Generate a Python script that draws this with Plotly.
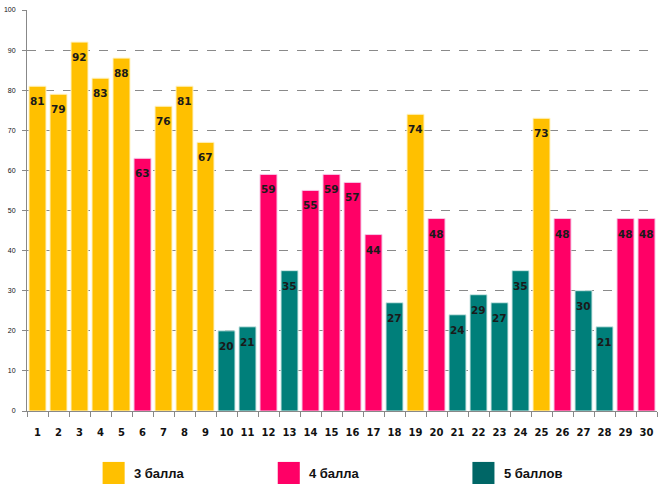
import plotly.graph_objects as go

categories = [str(i) for i in range(1, 31)]
values = [81, 79, 92, 83, 88, 63, 76, 81, 67, 20, 21, 59, 35, 55, 59, 57, 44, 27,
          74, 48, 24, 29, 27, 35, 73, 48, 30, 21, 48, 48]
grades = ["3", "3", "3", "3", "3", "4", "3", "3", "3", "5", "5", "4", "5", "4", "4", "4", "4", "5",
          "3", "4", "5", "5", "5", "5", "3", "4", "5", "5", "4", "4"]
series_names = {"3": "3 балла", "4": "4 балла", "5": "5 баллов"}
bar_colors = {"3": "#FFC000", "4": "#FF0066", "5": "#007F7A"}
glow_colors = {"3": "#FFF3C4", "4": "#F6C6E6", "5": "#CFE8E6"}
legend_colors = {"3": "#FFC000", "4": "#FF0066", "5": "#006666"}

FONT = "Liberation Sans"
LABEL_FONT = "DejaVu Sans"

fig = go.Figure()
for g in ["3", "4", "5"]:
    xs = [c for c, gg in zip(categories, grades) if gg == g]
    ys = [v for v, gg in zip(values, grades) if gg == g]
    fig.add_trace(go.Bar(
        x=xs, y=ys, name=series_names[g],
        marker=dict(color=bar_colors[g], line=dict(color=glow_colors[g], width=1)),
        showlegend=False,
    ))

# value labels inside the bar tops (x = category index on the category axis)
for idx, v in enumerate(values):
    fig.add_annotation(x=idx, y=v, text=str(v), showarrow=False,
                       xanchor="center", yanchor="middle", yshift=-15,
                       font=dict(family=LABEL_FONT, size=10.5, color="#1a1a1a", weight="bold"))

# manual legend
leg_x = [0.120, 0.398, 0.707]
for g, lx in zip(["3", "4", "5"], leg_x):
    fig.add_shape(type="rect", xref="paper", yref="paper",
                  x0=lx, x1=lx + 0.035, y0=-0.127, y1=-0.182,
                  fillcolor=legend_colors[g], line=dict(width=0))
    fig.add_annotation(xref="paper", yref="paper", x=lx + 0.047, y=-0.157,
                       text=series_names[g], showarrow=False, xanchor="left", yanchor="middle",
                       font=dict(family=FONT, size=13, color="#111111", weight="bold"))

fig.update_layout(
    width=666, height=495,
    margin=dict(l=27, r=9, t=10, b=84, autoexpand=False),
    paper_bgcolor="white", plot_bgcolor="white",
    barmode="overlay", bargap=0.19,
)
fig.update_xaxes(
    type="category", categoryorder="array", categoryarray=categories,
    range=[-0.5, len(categories) - 0.5],
    showline=True, linecolor="#888888", linewidth=1,
    ticks="outside", tickson="boundaries", ticklen=5, tickcolor="#888888",
    tickangle=0, automargin=False, ticklabelstandoff=12,
    tickfont=dict(family=LABEL_FONT, size=10, color="#111111", weight="bold"),
    showgrid=False,
)
fig.update_yaxes(
    range=[0, 100], dtick=10, automargin=False,
    showline=True, linecolor="#888888", linewidth=1,
    ticks="outside", ticklen=4, tickcolor="#888888", ticklabelstandoff=5,
    ticklabeloverflow="allow",
    tickfont=dict(family=FONT, size=7, color="#111111"),
    showgrid=True, gridcolor="#8a8a8a", griddash="dash", gridwidth=1,
    zeroline=False,
)
fig.write_html("out.html", config={"displayModeBar": False},
               post_script="document.body.style.margin='0px';")
